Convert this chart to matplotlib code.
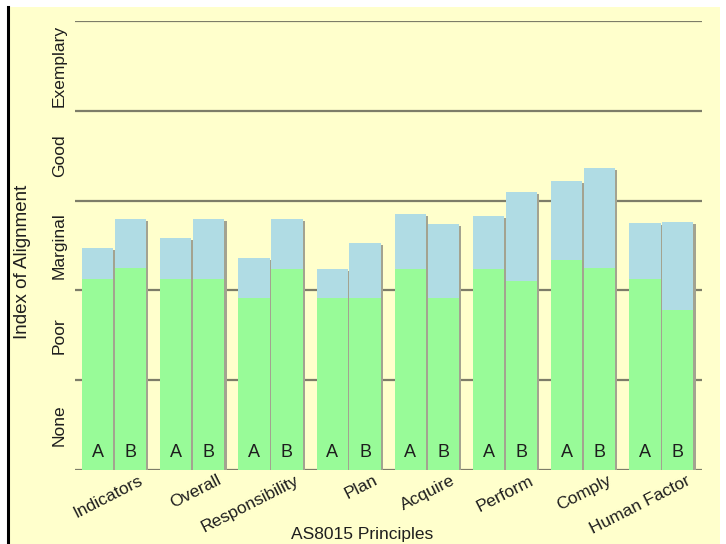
import numpy as np
import matplotlib
matplotlib.use("Agg")
import matplotlib.pyplot as plt
from matplotlib.patches import Rectangle
from matplotlib.transforms import ScaledTranslation

#----------- Data -----------#
principles = ["Indicators", "Overall", "Responsibility", "Plan",
              "Acquire", "Perform", "Comply", "Human Factor"]
levels = ["None", "Poor", "Marginal", "Good", "Exemplary"]

# green = lower part, blue = total height (index of alignment, 0-5)
green_a = [2.13, 2.13, 1.92, 1.92, 2.24, 2.24, 2.34, 2.13]
total_a = [2.47, 2.58, 2.36, 2.24, 2.85, 2.83, 3.22, 2.75]
green_b = [2.25, 2.13, 2.24, 1.92, 1.92, 2.10, 2.25, 1.78]
total_b = [2.80, 2.80, 2.80, 2.53, 2.74, 3.10, 3.36, 2.76]

#----------- Style -----------#
BG = "#FFFFCC"
GREEN = "#98FB98"
BLUE = "#B0DCE4"
SHADOW = "#a3a390"
GRID = "#7d7d68"
TXT = "#1e1e1e"
plt.rcParams['font.family'] = ['Liberation Sans', 'DejaVu Sans']

fig = plt.figure(figsize=(7.26, 5.44), dpi=100)
fig.patch.set_facecolor("white")
# cream panel + black left line
fig.patches.append(Rectangle((8/726, 0), 712/726, 537/544, transform=fig.transFigure,
                             facecolor=BG, edgecolor="none", zorder=-10))
fig.lines.append(plt.Line2D([8/726, 8/726], [0, 537/544], transform=fig.transFigure,
                            color="black", lw=2.2))

ax = fig.add_axes([75/726, 74/544, 627/726, 449/544])
ax.set_facecolor(BG)
ax.patch.set_alpha(0)

x = np.arange(len(principles))
w = 0.40
off = 0.21
shadow_tr = ax.transData + ScaledTranslation(0.022, -0.02, fig.dpi_scale_trans)

for xs, g, t, lab in [(x - off, green_a, total_a, "A"), (x + off, green_b, total_b, "B")]:
    sh = ax.bar(xs, t, w, color=SHADOW, zorder=2)
    for p in sh:
        p.set_transform(shadow_tr)
    ax.bar(xs, t, w, color=BLUE, zorder=3)
    ax.bar(xs, g, w, color=GREEN, zorder=4)
    for xi in xs:
        ax.text(xi, 0.19, lab, ha="center", va="center", fontsize=13, color=TXT, zorder=5)

for lv in range(6):
    ax.axhline(lv, color=GRID, lw=1.6, zorder=1)

ax.set_xlim(-0.5, 7.52)
ax.set_ylim(0, 5)
for s in ax.spines.values():
    s.set_visible(False)

ax.set_yticks(np.arange(5) + 0.5)
ax.set_yticklabels(levels, rotation=90, va="center", fontsize=12.5, color=TXT)
ax.tick_params(axis="y", length=0, pad=6)

ax.set_xticks(x)
ax.set_xticklabels(principles, rotation=27, ha="right", va="top", fontsize=12.5, color=TXT)
ax.tick_params(axis="x", length=0, pad=2)
for tl in ax.get_xticklabels():
    tl.set_transform(tl.get_transform() + ScaledTranslation(0.31, 0, fig.dpi_scale_trans))

fig.text(23/726, 282/544, "Index of Alignment", rotation=90, ha="center", va="center",
         fontsize=13.5, color=TXT)
fig.text(362/726, 17/544, "AS8015 Principles", ha="center", va="top",
         fontsize=12.5, color=TXT)

fig.savefig("out.png", dpi=100, facecolor=fig.get_facecolor())
